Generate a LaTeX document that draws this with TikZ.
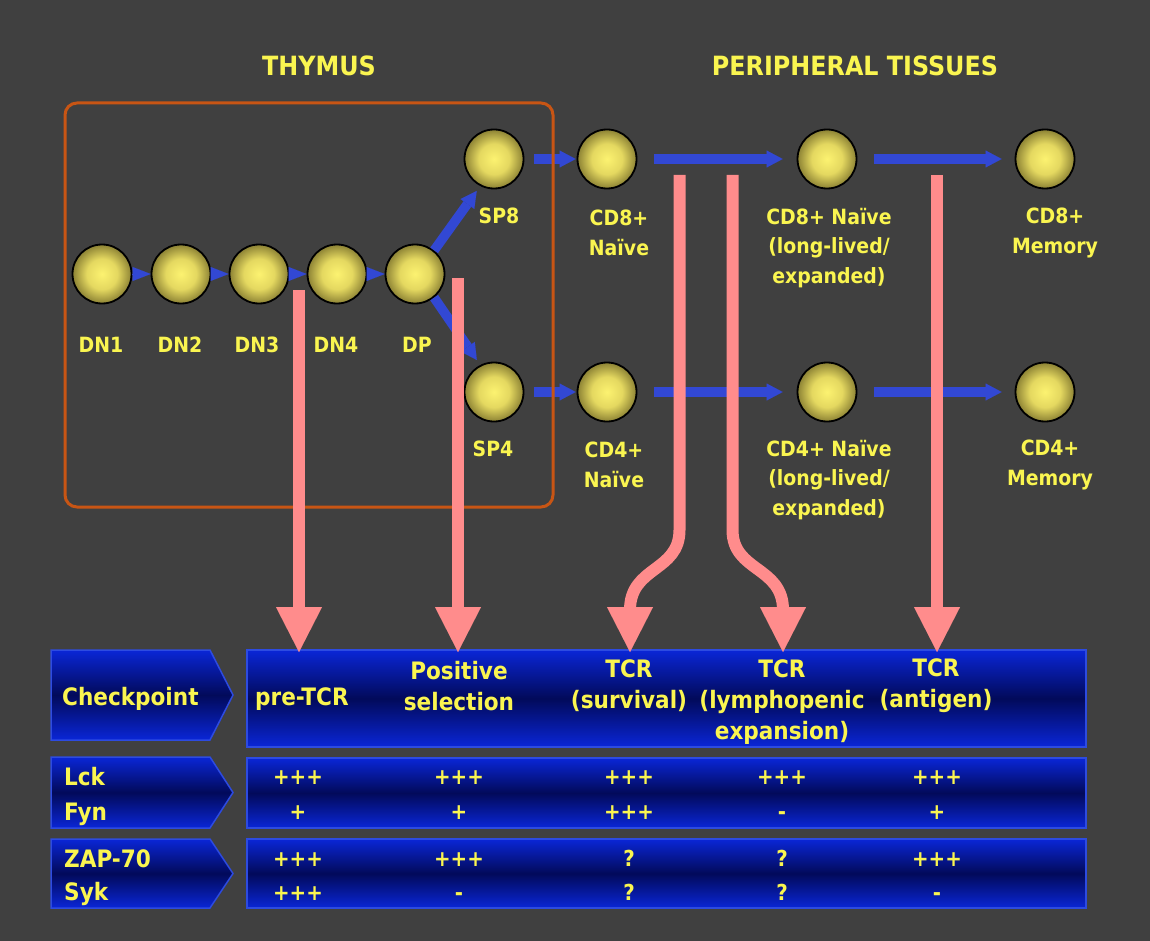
\documentclass[tikz,border=0pt]{standalone}
\usepackage{fontspec}
\setmainfont{DejaVu Sans Condensed}[BoldFont={DejaVu Sans Condensed Bold}]
\usetikzlibrary{arrows.meta,calc}
\definecolor{bg}{RGB}{64,64,64}
\definecolor{ylw}{RGB}{250,245,80}
\definecolor{orng}{RGB}{200,85,20}
\definecolor{cellin}{RGB}{252,242,112}
\definecolor{cellmid}{RGB}{228,216,96}
\definecolor{cellout}{RGB}{140,130,52}
\definecolor{blu}{RGB}{50,72,212}
\definecolor{pnk}{RGB}{255,140,140}
\definecolor{boxhi}{RGB}{10,38,215}
\definecolor{boxlo}{RGB}{2,10,90}
\definecolor{boxedge}{RGB}{45,75,225}
\pgfdeclareradialshading{cellball}{\pgfpoint{0bp}{0bp}}{color(0bp)=(cellin); color(13bp)=(cellmid); color(25bp)=(cellout); color(50bp)=(cellout)}
\tikzset{
 cell/.style={circle, minimum size=59pt, inner sep=0pt, draw=black, line width=1.8pt, shading=cellball},
 lbl/.style={text=ylw, font=\bfseries\fontsize{21}{29.5}\selectfont, align=center, inner sep=0pt},
 ttl/.style={text=ylw, font=\bfseries\fontsize{26.5}{30}\selectfont, inner sep=0pt},
 btxt/.style={text=ylw, font=\bfseries\fontsize{24}{31}\selectfont, align=center, inner sep=0pt},
 val/.style={text=ylw, font=\bfseries\fontsize{22}{26}\selectfont, inner sep=0pt, anchor=base},
 barrow/.style={draw=blu, line width=9.5pt, -{Triangle[length=16pt,width=17pt,line width=0.01pt]}},
 tipar/.style={draw=blu, line width=0.1pt, -{Triangle[length=18pt,width=14pt,line width=0.01pt]}},
 parrow/.style={draw=pnk, line width=12pt, -{Triangle[length=45pt,width=46pt,line width=0.01pt]}},
 panel/.style={draw=boxedge, line width=1.5pt, top color=boxhi, bottom color=boxhi, middle color=boxlo},
}
\begin{document}
\begin{tikzpicture}[x=1pt,y=-1pt]
\useasboundingbox (0,0) rectangle (1150,941);
\fill[bg] (0,0) rectangle (1150,941);
% titles
\node[ttl] (tthy) at (319,66) {THYMUS};
\node[ttl] (tper) at (855,66) {PERIPHERAL TISSUES};
% cells
\foreach \n/\x in {DN1/102, DN2/181, DN3/259, DN4/337, DP/415}
  \node[cell] (\n) at (\x,274) {};
\node[cell] (SP8) at (494,159) {};
\node[cell] (SP4) at (494,392) {};
\node[cell] (CD8) at (607,159) {};
\node[cell] (CD4) at (607,392) {};
\node[cell] (CD8L) at (827,159) {};
\node[cell] (CD4L) at (827,392) {};
\node[cell] (CD8M) at (1045,159) {};
\node[cell] (CD4M) at (1045,392) {};
% blue arrows
\draw[tipar] (DN1) -- (DN2);
\draw[tipar] (DN2) -- (DN3);
\draw[tipar] (DN3) -- (DN4);
\draw[tipar] (DN4) -- (DP);
\draw[barrow, shorten >=6pt] (DP.51) -- (SP8.243);
\draw[barrow, shorten >=6pt] (DP.-51) -- (SP4.117);
\draw[barrow, shorten <=10pt, shorten >=1pt] (SP8) -- (CD8);
\draw[barrow, shorten <=10pt, shorten >=1pt] (SP4) -- (CD4);
\draw[barrow, shorten <=17pt, shorten >=14pt] (CD8) -- (CD8L);
\draw[barrow, shorten <=17pt, shorten >=14pt] (CD4) -- (CD4L);
\draw[barrow, shorten <=17pt, shorten >=13pt] (CD8L) -- (CD8M);
\draw[barrow, shorten <=17pt, shorten >=13pt] (CD4L) -- (CD4M);
% thymus frame
\node[draw=orng, line width=3pt, rounded corners=12pt, minimum width=488pt, minimum height=404pt, inner sep=0pt] (thy) at (309,305) {};
% cell labels
\node[lbl] (lDN1) at (101,345) {DN1};
\node[lbl] (lDN2) at (180,345) {DN2};
\node[lbl] (lDN3) at (257,345) {DN3};
\node[lbl] (lDN4) at (336,345) {DN4};
\node[lbl] (lDP) at (417,345) {DP};
\node[lbl] (lSP8) at (499,216) {SP8};
\node[lbl] (lSP4) at (493,449) {SP4};
\node[lbl] (lCD8) at (619,233) {CD8+\\Naïve};
\node[lbl] (lCD4) at (614,465) {CD4+\\Naïve};
\node[lbl] (lCD8L) at (829,248) {CD8+ Naïve\\(long-lived/\\expanded)};
\node[lbl] (lCD4L) at (829,480) {CD4+ Naïve\\(long-lived/\\expanded)};
\node[lbl] (lCD8M) at (1055,233) {CD8+\\Memory};
\node[lbl] (lCD4M) at (1050,465) {CD4+\\Memory};
% bottom panels
\path[panel] (51,650) -- (210,650) -- (233,695) -- (210,740) -- (51,740) -- cycle;
\path[panel] (51,757) -- (210,757) -- (233,792.5) -- (210,828) -- (51,828) -- cycle;
\path[panel] (51,839) -- (210,839) -- (233,873.5) -- (210,908) -- (51,908) -- cycle;
\node[panel, minimum width=839pt, minimum height=97pt, inner sep=0pt] (cp) at (666.5,698.5) {};
\node[panel, minimum width=839pt, minimum height=70pt, inner sep=0pt] (lf) at (666.5,793) {};
\node[panel, minimum width=839pt, minimum height=69pt, inner sep=0pt] (zs) at (666.5,873.5) {};
% pink arrows
\coordinate (p1) at (299,290);
\coordinate (p2) at (458,278);
\coordinate (p3) at (679.5,175);
\coordinate (p4) at (732.5,175);
\coordinate (p5) at (937,175);
\coordinate (t1) at (299,652);
\coordinate (t2) at (458,652);
\coordinate (t3) at (630,652);
\coordinate (t4) at (783,652);
\coordinate (t5) at (937,652);
\draw[parrow] (p1) -- (t1);
\draw[parrow] (p2) -- (t2);
\draw[parrow] (p3) -- (679.5,530) .. controls (679.5,572) and (630,566) .. (630,610) -- (t3);
\draw[parrow] (p4) -- (732.5,530) .. controls (732.5,572) and (783,566) .. (783,610) -- (t4);
\draw[parrow] (p5) -- (t5);
% panel texts
\node[btxt, anchor=base west] (tck) at (62,705) {Checkpoint};
\node[btxt, anchor=base west] (tpre) at (255,705) {pre-TCR};
\node[btxt] (tpos) at (459,686) {Positive\\selection};
\node[btxt] (tsur) at (629,686) {TCR\\(survival)};
\node[btxt] (tlym) at (782,702) {TCR\\(lymphopenic\\expansion)};
\node[btxt] (tant) at (936,686) {TCR\\(antigen)};
\node[btxt, anchor=base west] (tlck) at (64,785.5) {Lck};
\node[btxt, anchor=base west] (tfyn) at (64,820) {Fyn};
\node[btxt, anchor=base west] (tzap) at (64,867.5) {ZAP-70};
\node[btxt, anchor=base west] (tsyk) at (64,900) {Syk};
\foreach \x/\a/\b/\c/\d [count=\i] in {298/+++/+/+++/+++, 459/+++/+/+++/-, 629/+++/+++/?/?, 782/+++/-/?/?, 937/+++/+/+++/-}{
  \node[val] (va\i) at (\x,784) {\a};
  \node[val] (vb\i) at (\x,819) {\b};
  \node[val] (vc\i) at (\x,866) {\c};
  \node[val] (vd\i) at (\x,900) {\d};
}
\end{tikzpicture}
\end{document}
